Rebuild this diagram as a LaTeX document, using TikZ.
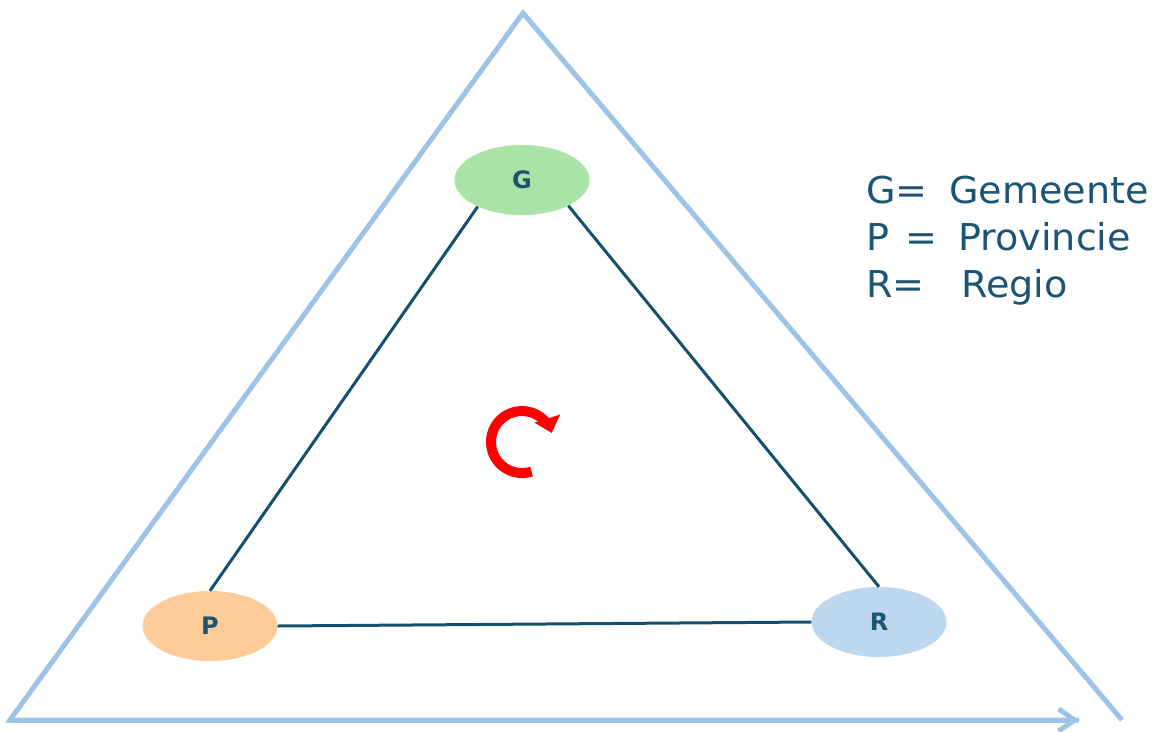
\documentclass[tikz,border=0pt]{standalone}
\usepackage{fontspec}
\setmainfont{DejaVu Sans}
\usetikzlibrary{arrows.meta,shapes.geometric}
\definecolor{outerblue}{RGB}{157,195,230}
\definecolor{linedark}{RGB}{20,80,110}
\definecolor{txtdark}{RGB}{28,84,116}
\definecolor{gfill}{RGB}{169,227,166}
\definecolor{pfill}{RGB}{255,204,153}
\definecolor{rfill}{RGB}{189,215,238}
\tikzset{
  outerline/.style={draw=outerblue, line width=5pt, line join=miter},
  party/.style={ellipse, minimum width=135pt, minimum height=70pt, inner sep=0pt,
    text=txtdark, font=\fontsize{24}{24}\selectfont\bfseries},
  link/.style={draw=linedark, line width=3pt},
  legend/.style={anchor=base west, inner sep=0pt, text=txtdark, xscale=1.03,
    font=\fontsize{37}{37}\selectfont},
  turnarrow/.style={draw=red, line width=10pt, -{Triangle[length=15pt,width=26pt]}}
}
\begin{document}
\begin{tikzpicture}[x=1pt,y=-1pt]
\useasboundingbox (0,0) rectangle (1161,731);
\coordinate (apex) at (523,13);
\coordinate (bl) at (10,720);
\coordinate (br) at (1122,720);
\coordinate (arrowend) at (1079,720);
\draw[outerline] (br) -- (apex) -- (bl) -- (arrowend);
\draw[outerline, -{Straight Barb[length=16pt,width=22pt]}] (bl) -- (arrowend);

\node[party, fill=gfill] (G) at (522,180) {G};
\node[party, fill=pfill] (P) at (210,626) {P};
\node[party, fill=rfill] (R) at (879,622) {R};

\draw[link] (G.211) -- (P.north);
\draw[link] (G.331) -- (R.north);
\draw[link] (P.east) -- (R.west);

\coordinate (C) at (522,442);
\draw[turnarrow] (C) ++(72:31) arc[start angle=72, end angle=343, radius=31];

\node[legend] (l1a) at (866,203) {G=};
\node[legend] (l1b) at (949,203) {Gemeente};
\node[legend] (l2a) at (866,250) {P};
\node[legend] (l2b) at (905,250) {=};
\node[legend] (l2c) at (958,250) {Provincie};
\node[legend] (l3a) at (866,297) {R=};
\node[legend] (l3b) at (961,297) {Regio};
\end{tikzpicture}
\end{document}
